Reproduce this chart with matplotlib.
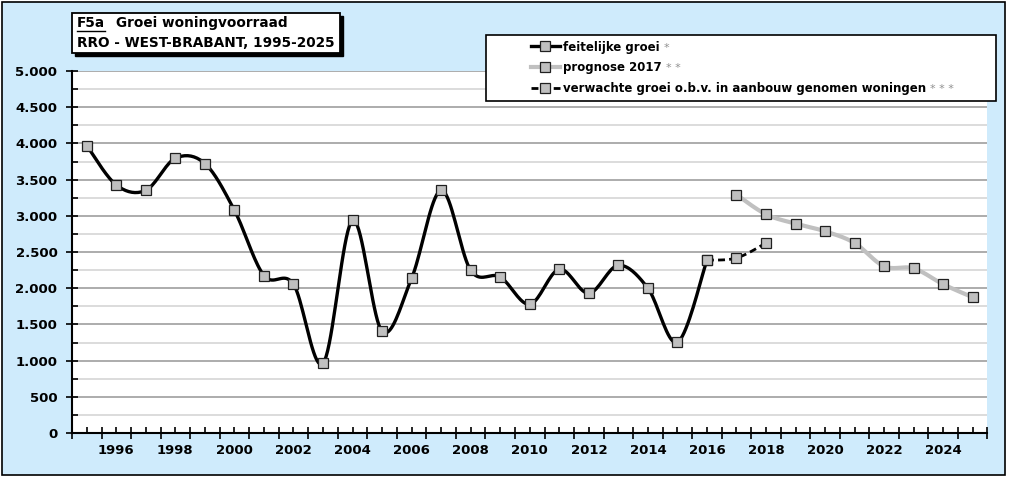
import numpy as np
import matplotlib.pyplot as plt
from matplotlib.patches import Rectangle
from matplotlib.lines import Line2D
from matplotlib.ticker import FixedLocator, FuncFormatter

# jaren en waarden
jaren = list(range(1995, 2026))
feitelijk = [3970, 3425, 3352, 3795, 3722, 3076, 2175, 2055, 962, 2937, 1404,
             2137, 3352, 2247, 2155, 1778, 2262, 1930, 2316, 2000, 1253, 2388]
jaren_feitelijk = list(range(1995, 2017))
prognose = [3292, 3020, 2891, 2786, 2624, 2302, 2274, 2054, 1874]
jaren_prognose = list(range(2017, 2026))
aanbouw = [2388, 2417, 2624]
jaren_aanbouw = [2016, 2017, 2018]

FW = 1009
FH = 480
blauw = "#CFEBFC"
font = "DejaVu Sans"


def glad(x, y, n=20):
    # Excel-achtige gladde lijn (Catmull-Rom)
    x = np.asarray(x, float)
    y = np.asarray(y, float)
    px = np.concatenate([[x[0]], x, [x[-1]]])
    py = np.concatenate([[y[0]], y, [y[-1]]])
    xs, ys = [], []
    t = np.linspace(0, 1, n)
    for i in range(1, len(px) - 2):
        for p, out in ((px, xs), (py, ys)):
            p0, p1, p2, p3 = p[i - 1], p[i], p[i + 1], p[i + 2]
            out.extend(0.5 * ((2 * p1) + (-p0 + p2) * t
                              + (2 * p0 - 5 * p1 + 4 * p2 - p3) * t ** 2
                              + (-p0 + 3 * p1 - 3 * p2 + p3) * t ** 3))
    return xs, ys


def fx(px):
    return px / FW


def fy(py):
    return 1 - py / FH


fig = plt.figure(figsize=(FW / 100, FH / 100), dpi=100)
fig.patch.set_facecolor("white")
fig.patches.append(Rectangle((fx(2), fy(475)), fx(1005) - fx(2), fy(2) - fy(475),
                             transform=fig.transFigure, facecolor=blauw,
                             edgecolor="black", linewidth=1.2, zorder=-10))

ax = fig.add_axes([fx(72), fy(433), fx(987.5) - fx(72), fy(71) - fy(433)])
ax.set_facecolor("white")

idx = {j: i for i, j in enumerate(jaren)}
xf = [idx[j] for j in jaren_feitelijk]
xp = [idx[j] for j in jaren_prognose]
xa = [idx[j] for j in jaren_aanbouw]

mk = dict(marker="s", markersize=7, markerfacecolor="#C0C0C0",
          markeredgecolor="#202020", markeredgewidth=0.9)

sx, sy = glad(xf, feitelijk)
ax.plot(sx, sy, color="black", linewidth=2.4, zorder=4)
ax.plot(xf, feitelijk, linestyle="none", zorder=6, **mk)

sx, sy = glad(xp, prognose)
ax.plot(sx, sy, color="#C0C0C0", linewidth=3, zorder=3)
ax.plot(xp, prognose, linestyle="none", zorder=6, **mk)

sx, sy = glad(xa, aanbouw)
ax.plot(sx, sy, color="black", linewidth=2, linestyle=(0, (2.5, 1.5)), zorder=4)
ax.plot(xa, aanbouw, linestyle="none", zorder=6, **mk)

ax.set_xlim(-0.5, len(jaren) - 0.5)
ax.set_ylim(0, 5000)

ax.set_yticks(np.arange(0, 5001, 500))
ax.set_yticks(np.arange(250, 5000, 500), minor=True)
ax.yaxis.set_major_formatter(FuncFormatter(lambda v, p: f"{int(v):,}".replace(",", ".")))
ax.grid(axis="y", which="major", color="#A6A6A6", linewidth=1.3)
ax.grid(axis="y", which="minor", color="#D9D9D9", linewidth=1.3)
ax.set_axisbelow(True)

ax.xaxis.set_major_locator(FixedLocator(np.arange(-0.5, len(jaren), 1)))
ax.xaxis.set_minor_locator(FixedLocator(np.arange(0, len(jaren))))
ax.xaxis.set_major_formatter(FuncFormatter(lambda v, p: ""))
ax.xaxis.set_minor_formatter(FuncFormatter(
    lambda v, p: str(jaren[int(round(v))]) if 0 <= int(round(v)) < len(jaren) and jaren[int(round(v))] % 2 == 0 else ""))

ax.tick_params(axis="x", which="major", direction="inout", length=9, width=1.2)
ax.tick_params(axis="x", which="minor", direction="in", length=4, width=1.2, pad=8,
               labelsize=9.5)
ax.tick_params(axis="y", which="major", direction="inout", length=9, width=1.2,
               labelsize=9.5, pad=6)
ax.tick_params(axis="y", which="minor", direction="in", length=4, width=1.2)
for lab in ax.get_xticklabels(minor=True) + ax.get_yticklabels():
    lab.set_fontweight("bold")
    lab.set_family(font)

for s in ["top", "right"]:
    ax.spines[s].set_visible(False)
for s in ["left", "bottom"]:
    ax.spines[s].set_linewidth(1.5)

# titelblok
fig.patches.append(Rectangle((fx(75), fy(56)), fx(340) - fx(72), fy(13) - fy(53),
                             transform=fig.transFigure, facecolor="black",
                             edgecolor="black", zorder=8))
fig.patches.append(Rectangle((fx(72), fy(53)), fx(340) - fx(72), fy(13) - fy(53),
                             transform=fig.transFigure, facecolor="white",
                             edgecolor="black", linewidth=1.3, zorder=9))
t1 = fig.text(fx(77), fy(23), "F5a", fontsize=9.8, fontweight="bold",
              family=font, va="center", zorder=10)
fig.text(fx(116), fy(23), "Groei woningvoorraad", fontsize=9.8, fontweight="bold",
         family=font, va="center", zorder=10)
fig.text(fx(77), fy(43), "RRO - WEST-BRABANT, 1995-2025", fontsize=9.8,
         fontweight="bold", family=font, va="center", zorder=10)

# legenda
fig.patches.append(Rectangle((fx(486), fy(101)), fx(996) - fx(486), fy(35) - fy(101),
                             transform=fig.transFigure, facecolor="white",
                             edgecolor="black", linewidth=1.2, zorder=8))
handles = [
    Line2D([], [], color="black", linewidth=2.4, **mk),
    Line2D([], [], color="#C0C0C0", linewidth=3, **mk),
    Line2D([], [], color="black", linewidth=2, linestyle=(0, (2.5, 1.5)), **mk),
]
labels = ["feitelijke groei", "prognose 2017", "verwachte groei o.b.v. in aanbouw genomen woningen"]
sterren = ["*", "* *", "* * *"]
leg = fig.legend(handles, labels, loc="upper left",
                 bbox_to_anchor=(fx(520), fy(30)), frameon=False, numpoints=1,
                 handlelength=2.5, handletextpad=0.25, labelspacing=0.65,
                 prop={"family": font, "weight": "bold", "size": 8.5})
leg.set_zorder(10)

fig.canvas.draw()
r = fig.canvas.get_renderer()
for txt, st in zip(leg.get_texts(), sterren):
    bb = txt.get_window_extent(r)
    fig.text((bb.x1 + 4) / FW, (bb.y1 - 2) / FH, st, fontsize=8, color="#909090",
             family=font, va="top", ha="left", zorder=11)

bb = t1.get_window_extent(r)
fig.lines.append(Line2D([bb.x0 / FW, bb.x1 / FW], [(bb.y0 - 1) / FH] * 2,
                        transform=fig.transFigure, color="black", linewidth=1, zorder=10))

fig.savefig("out.png", dpi=100, facecolor=fig.get_facecolor())
